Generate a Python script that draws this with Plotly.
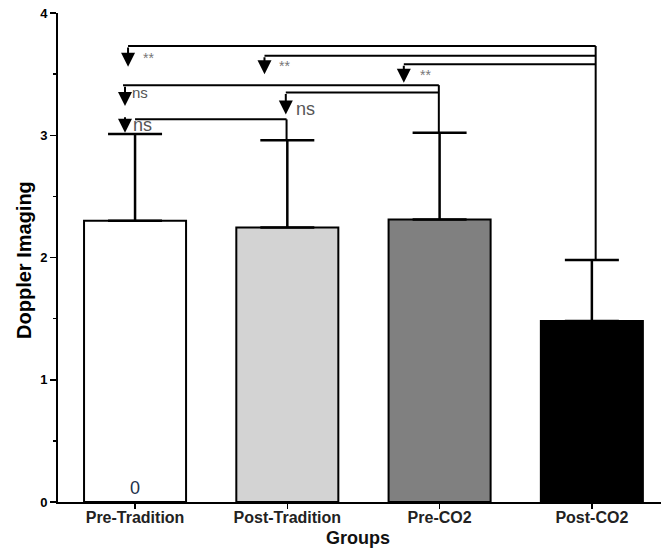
import plotly.graph_objects as go

# ---------------- data ----------------
groups = ["Pre-Tradition", "Post-Tradition", "Pre-CO2", "Post-CO2"]
means = [2.30, 2.245, 2.31, 1.48]
sds = [0.71, 0.715, 0.71, 0.50]
bar_colors = ["#ffffff", "#d3d3d3", "#808080", "#000000"]
y_ticks = [0, 1, 2, 3, 4]

# significance comparisons (from group index -> to group index)
cmp_from = [0, 1, 2, 0, 1, 0]
cmp_to = [3, 3, 3, 2, 2, 1]
cmp_level = [3.73, 3.65, 3.58, 3.41, 3.35, 3.13]
cmp_label = ["**", "**", "**", "ns", "ns", "ns"]

# ---------------- styling offsets ----------------
arrow_dx = [-0.046, -0.15, -0.235, -0.066, -0.01, -0.066]
line_dx = [-0.046, -0.15, -0.235, -0.079, -0.01, 0.0]
to_dx = {3: 0.025, 2: -0.005, 1: -0.005}
arrow_len = [0.17, 0.15, 0.15, 0.17, 0.18, 0.11]
arrow_top_extra = [0, 0, 0, 0, 0, 0.03]
lab_dx_px = [13, 13, 14, 5, 8, 6]
lab_dy_px = [-12, -10, -11, -7, -17, -6]
lab_size = [14, 14, 14, 15, 18, 18]
lab_color = ["#777777", "#777777", "#777777", "#555555", "#555555", "#555555"]

FONT = "Arial, 'Liberation Sans', sans-serif"

fig = go.Figure()
fig.add_trace(go.Bar(
    x=groups, y=means, width=0.67,
    marker=dict(color=bar_colors, line=dict(color="black", width=2)),
    error_y=dict(type="data", symmetric=False, array=sds,
                 arrayminus=[0] * len(sds), color="black",
                 thickness=2.5, width=27),
    showlegend=False, hoverinfo="skip",
))

shapes = []
annotations = []
# horizontal bracket lines + arrows + labels
for f, t, lv, lab, adx, ldx, al, ate, ldxp, ldyp, ls, lc in zip(
        cmp_from, cmp_to, cmp_level, cmp_label, arrow_dx, line_dx,
        arrow_len, arrow_top_extra, lab_dx_px, lab_dy_px, lab_size, lab_color):
    shapes.append(dict(type="line", xref="x", yref="y",
                       x0=f + ldx, x1=t + to_dx[t], y0=lv, y1=lv,
                       line=dict(color="black", width=2)))
    annotations.append(dict(x=f + adx, y=lv - al, xref="x", yref="y",
                            ax=f + adx, ay=lv + ate, axref="x", ayref="y",
                            text="", showarrow=True, arrowhead=2,
                            arrowsize=1.4, arrowwidth=2, arrowcolor="black",
                            standoff=0, startstandoff=0))
    annotations.append(dict(x=f + adx, y=lv, xref="x", yref="y",
                            text=lab, showarrow=False, xanchor="left",
                            yanchor="middle", xshift=ldxp, yshift=ldyp,
                            font=dict(family=FONT, size=ls, color=lc)))

# vertical drops from the bracket of each target group to its error bar
for t in sorted(set(cmp_to)):
    levels = [lv for lv, tt in zip(cmp_level, cmp_to) if tt == t]
    top = min(levels) if t == 1 else max(levels)
    shapes.append(dict(type="line", xref="x", yref="y",
                       x0=t + to_dx[t], x1=t + to_dx[t],
                       y0=top, y1=means[t] + sds[t],
                       line=dict(color="black", width=2)))

# value label inside first bar
annotations.append(dict(x=groups[0], y=0, xref="x", yref="y", text="0",
                        showarrow=False, yanchor="bottom", yshift=2,
                        font=dict(family=FONT, size=18, color="#23324a")))
# axis titles
annotations.append(dict(x=0, y=0.495, xref="paper", yref="paper",
                        text="<b>Doppler Imaging</b>", textangle=-90,
                        showarrow=False, xanchor="center", yanchor="middle",
                        xshift=-34, font=dict(family=FONT, size=20, color="black")))
annotations.append(dict(x=0.497, y=0, xref="paper", yref="paper",
                        text="<b>Groups</b>", showarrow=False,
                        xanchor="center", yanchor="middle", yshift=-36,
                        font=dict(family=FONT, size=18, color="#111111")))

fig.update_layout(
    width=661, height=556,
    margin=dict(l=58, r=0, t=13, b=54, autoexpand=False),
    plot_bgcolor="white", paper_bgcolor="white",
    shapes=shapes, annotations=annotations,
    font=dict(family=FONT),
    bargap=0.3,
)
fig.update_xaxes(
    range=[-0.506, 3.454], showline=True, linecolor="black", linewidth=2,
    ticks="outside", ticklen=5, tickwidth=1.5, tickcolor="black",
    tickfont=dict(family=FONT, size=16, color="#222222"),
    ticklabelstandoff=-5,
    tickprefix="<b>", ticksuffix="</b>", showgrid=False, zeroline=False,
    automargin=False,
)
fig.update_yaxes(
    range=[0, 4], tickvals=y_ticks, ticktext=[f"<b>{v}</b>" for v in y_ticks],
    showline=True, linecolor="black", linewidth=2,
    ticks="outside", ticklen=6, tickwidth=1.5, tickcolor="black",
    minor=dict(ticks="outside", ticklen=3, dtick=0.5, tick0=0,
               tickcolor="black", tickwidth=1.5, showgrid=False),
    tickfont=dict(family=FONT, size=13, color="black"),
    showgrid=False, zeroline=False, automargin=False,
)

fig.write_html(
    "out.html",
    config={"displayModeBar": False, "staticPlot": True},
    post_script="document.body.style.margin='0';document.body.style.overflow='hidden';",
)
